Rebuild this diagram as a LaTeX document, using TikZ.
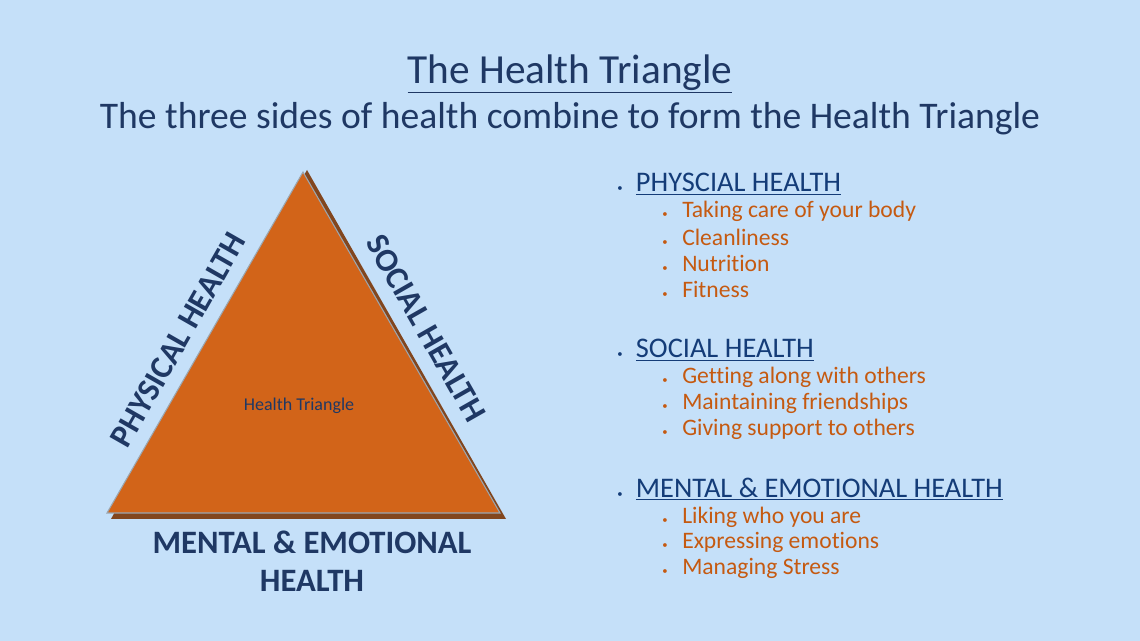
\documentclass[tikz,border=0pt]{standalone}
\usepackage{fontspec}
\setmainfont[Ligatures=NoCommon]{Carlito}
\definecolor{bg}{RGB}{197,224,249}
\definecolor{navy}{RGB}{31,56,100}
\definecolor{head}{RGB}{20,60,120}
\definecolor{org}{RGB}{197,90,17}
\definecolor{tri}{RGB}{210,100,25}
\definecolor{shad}{RGB}{130,70,30}
\begin{document}
\begin{tikzpicture}[x=0.75pt,y=-0.75pt,
  hd/.style={anchor=west,text=head,font=\fontsize{21.3}{24}\selectfont,inner sep=0},
  it/.style={anchor=west,text=org,font=\fontsize{17.7}{20}\selectfont,inner sep=0},
  lbl/.style={text=navy,font=\bfseries\fontsize{24.5}{28.5}\selectfont,align=center}]
\fill[bg] (0,0) rectangle (1140,641);
\useasboundingbox (0,0) rectangle (1140,641);
\node[text=navy,font=\fontsize{31}{34}\selectfont] (t) at (570,74) {\underline{The Health Triangle}};
\node[text=navy,font=\fontsize{28.2}{32}\selectfont] (st) at (570,119) {The three sides of health combine to form the Health Triangle};
% triangle
\fill[shad] (307,170) -- (506,519) -- (111,519) -- cycle;
\fill[tri,draw=gray!60!bg,line width=0.8pt] (303,172) -- (500,513) -- (107,513) -- cycle;
\node[text=navy,font=\fontsize{13.5}{15}\selectfont] (c) at (299,406) {Health Triangle};
\node[lbl,rotate=60.3] (p) at (178,340) {PHYSICAL HEALTH};
\node[lbl,rotate=-60.3] (s) at (426,328) {SOCIAL HEALTH};
\node[lbl] (m) at (312,561) {MENTAL \& EMOTIONAL\\ HEALTH};
% lists
\foreach \y/\t in {184/PHYSCIAL HEALTH,350/SOCIAL HEALTH,489/MENTAL \& EMOTIONAL HEALTH}{
  \node[hd] at (617,\y) {{\footnotesize•}\hspace{10pt}\underline{\t}};}
\foreach \y/\t in {211/Taking care of your body,237/Cleanliness,263/Nutrition,289/Fitness,
  377/Getting along with others,403/Maintaining friendships,429/Giving support to others,
  517/Liking who you are,542/Expressing emotions,568/Managing Stress}{
  \node[it] at (662,\y) {{\footnotesize•}\hspace{11pt}\t};}
\end{tikzpicture}
\end{document}
